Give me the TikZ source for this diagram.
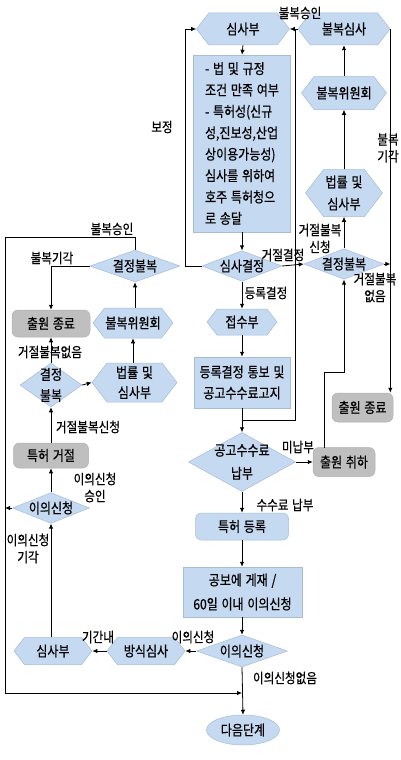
\documentclass[tikz,border=0pt]{standalone}
\usepackage{fontspec}
\setmainfont[FakeStretch=0.84,FakeBold=0.5,WordSpace=1.4]{Noto Sans CJK KR}
\usetikzlibrary{arrows.meta,shapes.geometric,shapes.symbols}
\definecolor{bl}{RGB}{197,217,241}
\definecolor{bd}{RGB}{165,188,218}
\definecolor{gr}{RGB}{191,191,191}
\definecolor{gd}{RGB}{175,175,175}
\begin{document}
\begin{tikzpicture}[x=1pt,y=-1pt,
  font=\fontsize{14.3}{16}\selectfont,
  hex/.style={shape=signal, signal to=east and west, signal pointer angle=105,
    fill=bl, draw=bd, line width=0.5pt, inner sep=0pt, align=center},
  dia/.style={diamond, fill=bl, draw=bd, line width=0.5pt, inner sep=0pt, aspect=2.5, align=center},
  bbox/.style={rectangle, fill=bl, draw=bd, line width=0.5pt, inner sep=0pt, align=center},
  rbox/.style={rectangle, rounded corners=6pt, fill=bl, draw=bd, line width=0.5pt, inner sep=0pt},
  gbox/.style={rectangle, rounded corners=6pt, fill=gr, draw=gd, line width=0.5pt, inner sep=0pt},
  ell/.style={ellipse, fill=bl, draw=bd, line width=0.5pt, inner sep=0pt},
  arr/.style={-{Latex[length=5pt,width=4.5pt]}, line width=0.8pt},
  ln/.style={line width=0.8pt},
  dlab/.style={inner sep=0pt, align=center},
  lab/.style={inner sep=0pt, align=center, font=\fontsize{13.8}{17}\selectfont}]
\useasboundingbox (0,0) rectangle (400,760);

% main column
\node[hex, minimum width=93, minimum height=32] (sb1) at (243,29) {심사부};
\node[hex, minimum width=92, minimum height=32] (bs) at (344,29) {불복심사};
\node[bbox, minimum width=97, minimum height=177, align=left,
  font=\fontsize{14.3}{21.4}\selectfont] (txt) at (242,143.5)
  {- 법 및 규정\\조건 만족 여부\\- 특허성(신규\\성,진보성,산업\\상이용가능성)\\심사를 위하여\\호주 특허청으\\로 송달};
\node[dia, minimum width=80, minimum height=28] (sg) at (242,266) {심사결정};
\node[hex, minimum width=70, minimum height=26] (jsb) at (242,322) {접수부};
\node[bbox, minimum width=96, minimum height=51, font=\fontsize{14.3}{21}\selectfont] (tb) at (242,382.5) {등록결정 통보 및\\공고수수료고지};
\node[dia, minimum width=107, minimum height=59,
  label={[dlab, font=\fontsize{14.3}{23}\selectfont]center:공고수수료\\납부}] (gn) at (242,462) {};
\node[rbox, minimum width=93, minimum height=27] (td) at (242,526.5) {특허 등록};
\node[bbox, minimum width=119, minimum height=50, font=\fontsize{14.3}{24}\selectfont] (gb) at (242.5,592) {공보에 게재 /\\60일 이내 이의신청};
\node[dia, minimum width=91, minimum height=32] (ys) at (242,651) {이의신청};
\node[ell, minimum width=73, minimum height=30] (nx) at (243,730) {다음단계};

% right column
\node[hex, minimum width=85, minimum height=33] (bw1) at (344,93) {불복위원회};
\node[hex, minimum width=77, minimum height=47, font=\fontsize{14.3}{22}\selectfont] (lj1) at (344,193) {법률 및\\심사부};
\node[dia, minimum width=80, minimum height=28] (dr) at (344,264) {결정불복};
\node[gbox, minimum width=61, minimum height=29] (ce2) at (362.5,407.5) {출원 종료};
\node[gbox, minimum width=62, minimum height=29] (ch) at (344,462) {출원 취하};

% left column
\node[dia, minimum width=90, minimum height=32] (dl1) at (135,266) {결정불복};
\node[gbox, minimum width=78, minimum height=27] (ce1) at (51,323.5) {출원 종료};
\node[hex, minimum width=80, minimum height=30] (bw2) at (133,323) {불복위원회};
\node[dia, minimum width=62, minimum height=44,
  label={[dlab, font=\fontsize{14.3}{21}\selectfont]center:결정\\불복}] (dl2) at (51,385) {};
\node[hex, minimum width=85, minimum height=39, font=\fontsize{14.3}{20}\selectfont] (lj2) at (134.5,382.5) {법률 및\\심사부};
\node[gbox, minimum width=75, minimum height=25] (tg) at (51,455.5) {특허 거절};
\node[dia, minimum width=77, minimum height=30] (ys2) at (51,508) {이의신청};
\node[hex, minimum width=78, minimum height=27] (sb2) at (53,651) {심사부};
\node[hex, minimum width=78, minimum height=27] (bsh) at (146,651) {방식심사};

% helper coordinates
\coordinate (j1) at (295,29);
\coordinate (m1) at (242,420);
\coordinate (c1) at (5,237);
\coordinate (c2) at (5,693);
\coordinate (c3) at (242,693);
\coordinate (c4) at (185,266);
\coordinate (c5) at (324,372);
\coordinate (c6) at (324,448);

% connectors main column
\draw[arr] (bs.west) -- (sb1.east);
\draw[ln] (j1) |- (m1);
\draw[arr] (sb1.south) -- (txt.north);
\draw[arr] (txt.south) -- (sg.north);
\draw[arr] (sg.south) -- (jsb.north);
\draw[arr] (jsb.south) -- (tb.north);
\draw[arr] (tb.south) -- (gn.north);
\draw[arr] (gn.east) -- (ch.west);
\draw[arr] (gn.south) -- (td.north);
\draw[arr] (td.south) -- (td.south |- gb.north);
\draw[arr] (ys.north |- gb.south) -- (ys.north);
\draw[arr] (ys.south) -- (nx.north);
\draw[arr] (ys.west) -- (bsh.east);
\draw[arr] (bsh.west) -- (sb2.east);
\draw[arr] (sg.west) -- (c4) |- (sb1.west);
\draw[arr] (sg.east) -- (dr.west);

% right column connectors
\draw[arr] (dr.north) -- (lj1.south);
\draw[arr] (lj1.north) -- (bw1.south);
\draw[arr] (bw1.north) -- (bs.south);
\draw[arr] (bs.east) -- (bs.east |- ce2.north);
\draw[arr] (dr.east) -- (dr.east -| bs.east);
\draw[arr] (c6) -- (c5) -| (dr.south);

% left column connectors
\draw[arr] (sb2.north -| ys2.south) -- (ys2.south);
\draw[arr] (ys2.north) -- (tg.south);
\draw[arr] (tg.north) -- (dl2.south);
\draw[arr] (dl2.north) -- (ce1.south);
\draw[arr] (dl2.east) -- (lj2.west);
\draw[arr] (lj2.north -| bw2.south) -- (bw2.south);
\draw[arr] (bw2.north -| dl1.south) -- (dl1.south);
\draw[arr] (dl1.west) -| (ce1.north);
\draw[arr] (dl1.north) |- (c1) -- (c2) -- (c3);
\draw[arr] (ys2.west) -- (ys2.west -| c1);

% labels
\node[lab] (l1) at (162,127) {보정};
\node[lab] (l2) at (300,13) {불복승인};
\node[lab] (l3) at (388,148) {불복\\기각};
\node[lab] (l4) at (320,238.5) {거절불복\\신청};
\node[lab] (l5) at (283,255) {거절결정};
\node[lab] (l6) at (375,287.5) {거절불복\\없음};
\node[lab] (l7) at (266,293) {등록결정};
\node[lab] (l8) at (298,447) {미납부};
\node[lab] (l9) at (285,505) {수수료 납부};
\node[lab] (l10) at (285,678) {이의신청없음};
\node[lab] (l11) at (193,637) {이의신청};
\node[lab] (l12) at (98,637) {기간내};
\node[lab] (l13) at (28,548.5) {이의신청\\기각};
\node[lab] (l14) at (95,487.5) {이의신청\\승인};
\node[lab] (l15) at (88,427) {거절불복신청};
\node[lab] (l16) at (50,352) {거절불복없음};
\node[lab] (l17) at (52,258) {불복기각};
\node[lab] (l18) at (112,229) {불복승인};
\end{tikzpicture}
\end{document}
